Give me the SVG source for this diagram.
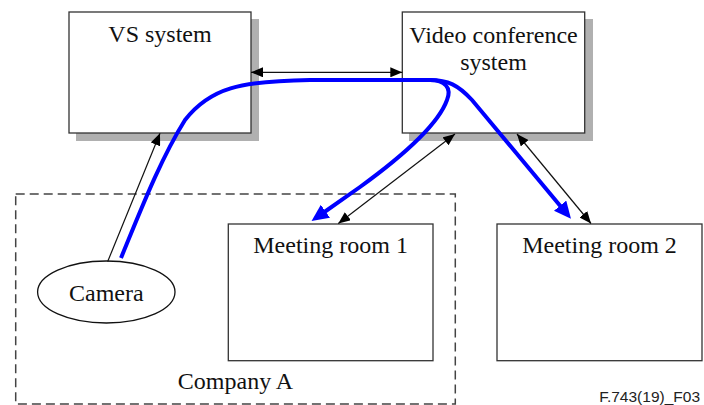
<svg xmlns="http://www.w3.org/2000/svg" width="704" height="405" viewBox="0 0 704 405">
<style>
.box{fill:#fff;stroke:#333;stroke-width:1.3}
.shadow{fill:#b0b0b0;stroke:none}
.lbl{font-family:"Liberation Serif","Times New Roman",serif;font-size:24px;fill:#111;text-anchor:middle}
.conn{fill:none;stroke:#111;stroke-width:1.2}
.flow{fill:none;stroke:#0000ff;stroke-width:4}
.dash{fill:none;stroke:#444;stroke-width:1.5;stroke-dasharray:9 5}
</style>
<defs>
<marker id="ah" markerUnits="userSpaceOnUse" markerWidth="12" markerHeight="10" refX="12" refY="5" orient="auto-start-reverse" viewBox="0 0 12 10">
<path d="M0,0 L12,5 L0,10 z" fill="#000"/>
</marker>
<marker id="bh" markerUnits="userSpaceOnUse" markerWidth="17" markerHeight="16" refX="3" refY="8" orient="auto" viewBox="0 0 17 16">
<path d="M0,0 L17,8 L0,16 z" fill="#0000ff"/>
</marker>
</defs>
<rect width="704" height="405" fill="#fff"/>
<g id="company-a">
<rect class="dash" x="15.7" y="194" width="439.6" height="210"/>
<text class="lbl" x="235.5" y="389">Company A</text>
</g>
<g id="vs-system">
<rect class="shadow" x="76" y="19" width="183" height="122"/>
<rect class="box" x="69" y="12" width="182" height="121"/>
<text class="lbl" x="160" y="42">VS system</text>
</g>
<g id="video-conference-system">
<rect class="shadow" x="409" y="19" width="184" height="122"/>
<rect class="box" x="402.3" y="12" width="182.4" height="121"/>
<text class="lbl" x="493.5" y="43">Video conference</text>
<text class="lbl" x="493.5" y="70">system</text>
</g>
<g id="meeting-room-1">
<rect class="box" x="228.3" y="224" width="204.7" height="136.7"/>
<text class="lbl" x="330.6" y="253">Meeting room 1</text>
</g>
<g id="meeting-room-2">
<rect class="box" x="497" y="224" width="205" height="136.7"/>
<text class="lbl" x="599.5" y="253">Meeting room 2</text>
</g>
<g id="camera">
<ellipse cx="106.3" cy="292" rx="68.7" ry="31" fill="#fff" stroke="#111" stroke-width="1.3"/>
<text class="lbl" x="106.3" y="300.5">Camera</text>
</g>
<g id="connectors">
<line class="conn" x1="251" y1="72.3" x2="402.3" y2="72.3" marker-start="url(#ah)" marker-end="url(#ah)"/>
<line class="conn" x1="107.7" y1="261.5" x2="160" y2="133.3" marker-end="url(#ah)"/>
<line class="conn" x1="455" y1="134" x2="338.3" y2="223.5" marker-start="url(#ah)" marker-end="url(#ah)"/>
<line class="conn" x1="517" y1="134" x2="591" y2="223.5" marker-start="url(#ah)" marker-end="url(#ah)"/>
<path class="flow" d="M121,258 C140,212 160,160 185,120 C210,88 240,81 310,80 L430,80"/>
<path class="flow" d="M430,80 C445,80 452,88 447,100 C438,125 400,158 360,187 L323,213" marker-end="url(#bh)"/>
<path class="flow" d="M430,80 C448,80 458,85 472,100 L562,208" marker-end="url(#bh)"/>
</g>
<text x="700" y="401.7" font-family="Liberation Sans, Arial, sans-serif" font-size="15.5" fill="#222" text-anchor="end">F.743(19)_F03</text>
</svg>
